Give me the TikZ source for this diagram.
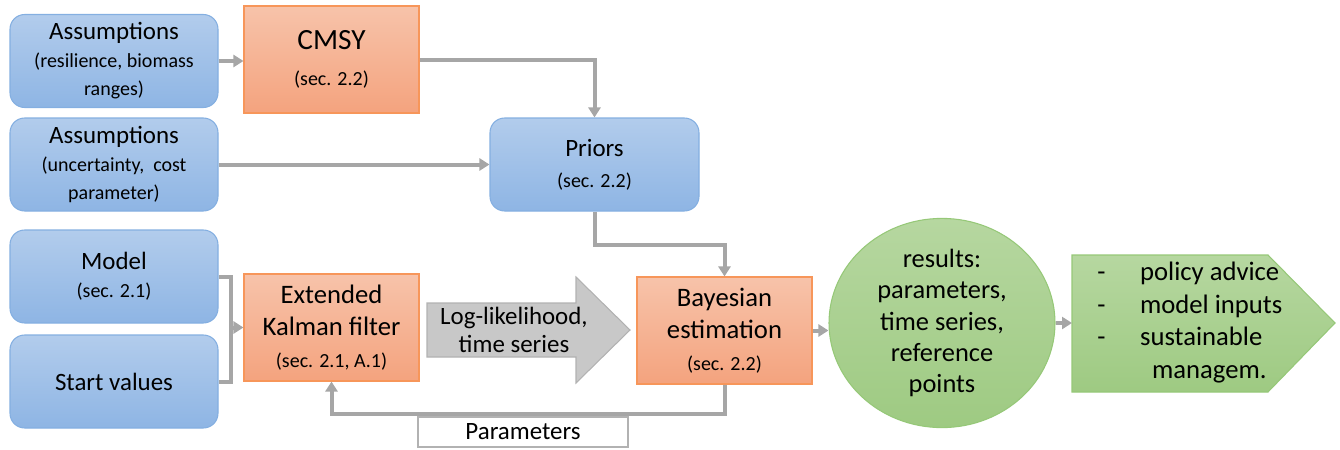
\documentclass[tikz,border=0pt]{standalone}
\usepackage{fontspec}
\setmainfont{Carlito}
\usetikzlibrary{arrows.meta,shapes.geometric,calc}
\definecolor{blueT}{RGB}{178,204,236}
\definecolor{blueB}{RGB}{142,181,228}
\definecolor{blueD}{RGB}{132,175,225}
\definecolor{orT}{RGB}{247,195,170}
\definecolor{orB}{RGB}{244,163,126}
\definecolor{orD}{RGB}{247,150,90}
\definecolor{grT}{RGB}{182,215,160}
\definecolor{grB}{RGB}{158,202,130}
\definecolor{grD}{RGB}{150,200,120}
\definecolor{arrF}{RGB}{200,200,200}
\definecolor{arrD}{RGB}{178,178,178}
\definecolor{conC}{RGB}{166,166,166}
\newcommand{\bigf}{\fontsize{18.7}{21}\selectfont}
\newcommand{\smf}{\fontsize{15}{19}\selectfont}
\newcommand{\midf}{\fontsize{20}{24}\selectfont}
\begin{document}
\begin{tikzpicture}[x=0.75pt,y=-0.75pt,
  bluebox/.style={draw=blueD,line width=0.8pt,top color=blueT,bottom color=blueB,rounded corners=11pt,
    minimum width=156pt,minimum height=69.75pt,align=center,inner sep=0pt,font=\bigf},
  orbox/.style={draw=orD,line width=0.8pt,top color=orT,bottom color=orB,
    minimum width=131.25pt,minimum height=80.25pt,align=center,inner sep=0pt,font=\bigf},
  conn/.style={draw=conC,line width=3pt,-{Triangle[length=7.5pt,width=9pt]}},
  plainline/.style={draw=conC,line width=3pt}]
\useasboundingbox (0,0) rectangle (1340,450);

\node[bluebox] (a1) at (114,61) {Assumptions\\\smf (resilience, biomass\\\smf ranges)};
\node[orbox] (cmsy) at (331.5,59.5) {\fontsize{22}{26}\selectfont CMSY\\[6pt]\smf (sec. 2.2)};
\node[bluebox] (a2) at (114,164.5) {Assumptions\\\smf (uncertainty,\ \ cost\\\smf parameter)};
\node[bluebox,minimum width=156.75pt] (priors) at (594.5,164.5) {Priors\\[2pt]\smf (sec. 2.2)};
\node[bluebox] (model) at (114,276.5) {Model\\\smf (sec. 2.1)};
\node[bluebox] (start) at (114,381.5) {Start values};
\node[orbox,font=\midf] (kalman) at (331.5,327.5) {Extended\\Kalman filter\\\smf (sec. 2.1, A.1)};
\node[orbox,font=\midf] (bayes) at (724.5,330.5) {Bayesian\\estimation\\\smf (sec. 2.2)};

% big gray arrow
\draw[draw=arrD,fill=arrF,line width=0.8pt] (427,303) -- (576,303) -- (576,277) -- (630,330) -- (576,383) -- (576,357) -- (427,357) -- cycle;
\node[font=\bigf,align=center] (llh) at (514,330) {Log-likelihood,\\time series};

% results ellipse
\node[ellipse,draw=grD,line width=0.8pt,top color=grT,bottom color=grB,minimum width=169.5pt,minimum height=142.5pt,inner sep=0pt,align=center,font=\fontsize{19.8}{23.5}\selectfont] (res) at (942,323) {results:\\parameters,\\time series,\\reference\\points};

% pentagon
\draw[draw=grD,line width=0.8pt,top color=grT,bottom color=grB] (1072,255) -- (1268,255) -- (1335,323) -- (1268,392) -- (1072,392) -- cycle;
\coordinate (pentL) at (1072,323);
\node[anchor=west,font=\fontsize{20}{24.5}\selectfont,inner sep=0pt] (adv) at (1097,323) {\begin{tabular}{@{}l@{\hspace{26pt}}l@{}}-&policy advice\\-&model inputs\\-&sustainable\\&\hspace{9pt}managem.\end{tabular}};

% parameters label box
\node[draw=arrD,fill=white,line width=0.8pt,minimum width=157.5pt,minimum height=22.5pt,inner sep=0pt,font=\bigf] (params) at (523,432) {Parameters};

% connectors
\draw[conn] (a1.east) -- (cmsy.west |- a1.east);
\draw[conn] (cmsy.east) -| (priors.north);
\draw[conn] (a2.east) -- (priors.west);
\coordinate (pbend) at (0,245);
\draw[conn] (priors.south) -- (priors.south |- pbend) -| (bayes.north);
\coordinate (br) at (231,0);
\draw[plainline] (model.east) -| (br |- start.east) -- (start.east);
\draw[conn] (br |- kalman.west) -- (kalman.west);
\coordinate (fb) at (0,414);
\draw[conn] (bayes.south) -- (bayes.south |- fb) -| (kalman.south);
\draw[conn] (bayes.east) -- (bayes.east -| res.west);
\draw[conn] (res.east) -- (pentL);
\end{tikzpicture}
\end{document}
